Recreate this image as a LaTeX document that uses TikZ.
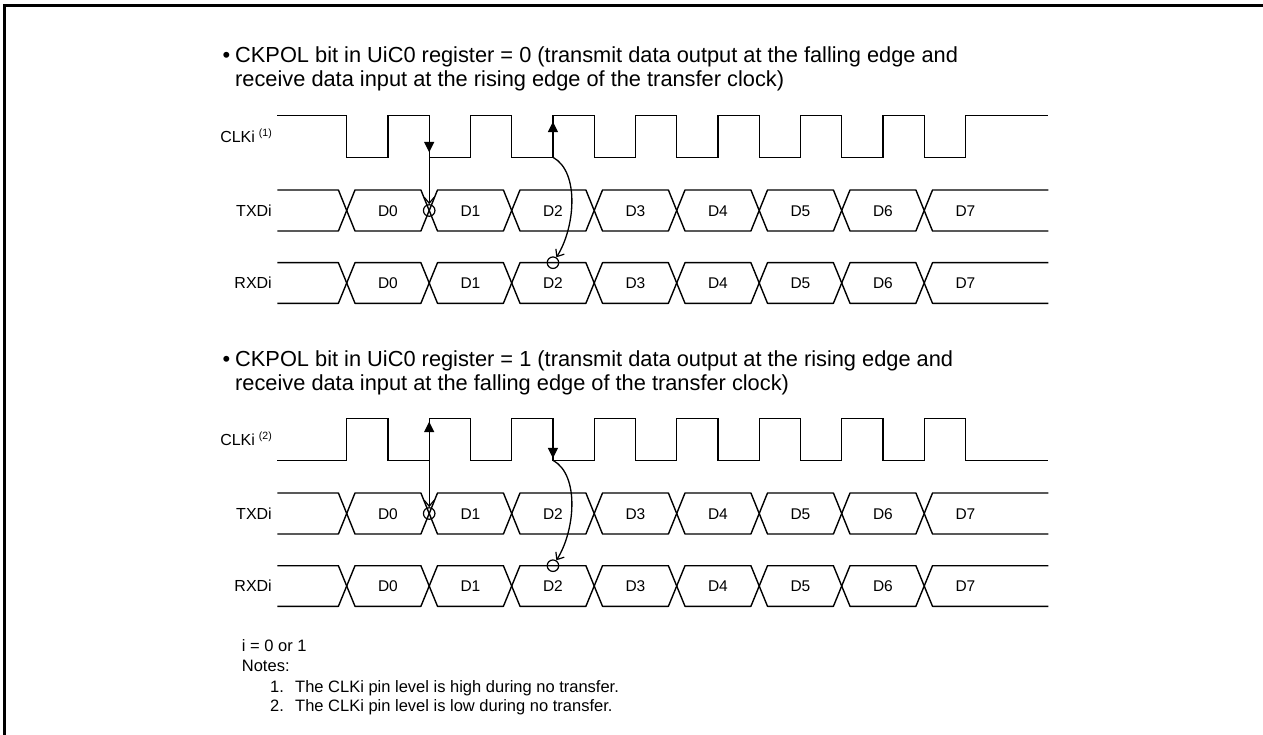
\documentclass[tikz,border=0pt]{standalone}
\usepackage{fontspec}
\setmainfont{Liberation Sans}
\usetikzlibrary{arrows.meta}

\newcommand\busrow[4]{%
  \pgfmathsetmacro\bmid{(#1+#2)/2}%
  \draw[bus] (277.3,#1) -- (338.4,#1) -- (346.7,\bmid) -- (338.4,#2) -- (277.3,#2);
  \foreach \k in {0,...,6} {
    \pgfmathsetmacro\fa{346.7+82.5*\k}
    \pgfmathsetmacro\fb{\fa+82.5}
    \draw[bus] (\fa,\bmid) -- (\fa+8.3,#1) -- (\fb-8.3,#1) -- (\fb,\bmid) -- (\fb-8.3,#2) -- (\fa+8.3,#2) -- cycle;
  }
  \draw[bus] (1048.3,#1) -- (932.5,#1) -- (924.2,\bmid) -- (932.5,#2) -- (1048.3,#2);
  \foreach \k in {0,...,7} {
    \node[dlbl] (#4\k) at ({387.95+82.5*\k},#3) {D\k};
  }
}

\begin{document}
\begin{tikzpicture}[x=1pt,y=-1pt,
  sig/.style={line width=1.4pt, line join=miter},
  bus/.style={line width=1.4pt, line join=round},
  lbl/.style={font=\fontsize{16}{19}\selectfont, anchor=base east, inner sep=0},
  dlbl/.style={font=\fontsize{15.5}{18}\selectfont, anchor=base, inner sep=0},
  txt/.style={font=\fontsize{21.8}{24}\selectfont, anchor=base west, inner sep=0},
  note/.style={font=\fontsize{16.5}{20}\selectfont, anchor=base west, inner sep=0},
  ring/.style={circle, draw, line width=1.2pt, minimum size=11.5pt, inner sep=0},
  tri/.style={-{Triangle[length=10.5pt,width=10pt]}, line width=1.4pt},
  barb/.style={-{Straight Barb[length=6pt,width=10pt,line width=1.2pt]}, line width=1.3pt},
]
\useasboundingbox (0,0) rectangle (1263,735);
\fill[white] (0,0) rectangle (1263,735);
\draw[line width=3pt] (4.5,735) -- (4.5,6) -- (1263,6);

% ---------- Section 1 ----------
\node[txt, anchor=base] (abul) at (226.5,63) {•};
\node[txt] (al1) at (235,63) {CKPOL bit in UiC0 register = 0 (transmit data output at the falling edge and};
\node[txt] (al2) at (235,87) {receive data input at the rising edge of the transfer clock)};

\node[lbl] (aclk) at (272,142.3) {CLKi\hspace{4pt}\raisebox{5.5pt}{\fontsize{10.5}{11}\selectfont (1)}};
\node[lbl] (atx) at (272,216.7) {TXDi};
\node[lbl] (arx) at (272,288.3) {RXDi};

\draw[sig] (277.3,115.7) foreach \k in {0,...,7} { -- ({346.7+82.5*\k},115.7) -- ({346.7+82.5*\k},157.3) -- ({387.95+82.5*\k},157.3) -- ({387.95+82.5*\k},115.7) } -- (1048.3,115.7);
\busrow{190}{231}{216.7}{atd}
\busrow{262.7}{303.3}{288.3}{ard}

\coordinate (a1t) at (429.2,115.7);
\coordinate (a1b) at (429.2,157.3);
\node[ring] (a1c) at (429.2,210.5) {};
\draw[barb] (a1t) -- (a1c);
\draw[tri, shorten >=5pt] (a1t) -- (a1b);
\coordinate (a2t) at (552.95,115.7);
\coordinate (a2b) at (552.95,157.3);
\node[ring] (a2c) at (552.95,262.7) {};
\draw[tri, shorten >=6pt] (a2b) -- (a2t);
\draw[barb] (a2b) .. controls (580,172) and (575,228) .. (a2c);

% ---------- Section 2 ----------
\begin{scope}[shift={(0,303)}]
\node[txt, anchor=base] (bbul) at (226.5,63) {•};
\node[txt] (bl1) at (235,63) {CKPOL bit in UiC0 register = 1 (transmit data output at the rising edge and};
\node[txt] (bl2) at (235,87) {receive data input at the falling edge of the transfer clock)};

\node[lbl] (bclk) at (272,142.3) {CLKi\hspace{4pt}\raisebox{5.5pt}{\fontsize{10.5}{11}\selectfont (2)}};
\node[lbl] (btx) at (272,216.7) {TXDi};
\node[lbl] (brx) at (272,288.3) {RXDi};

\draw[sig] (277.3,157.3) foreach \k in {0,...,7} { -- ({346.7+82.5*\k},157.3) -- ({346.7+82.5*\k},115.7) -- ({387.95+82.5*\k},115.7) -- ({387.95+82.5*\k},157.3) } -- (1048.3,157.3);
\busrow{190}{231}{216.7}{btd}
\busrow{262.7}{303.3}{288.3}{brd}

\coordinate (b1t) at (429.2,115.7);
\coordinate (b1b) at (429.2,157.3);
\node[ring] (b1c) at (429.2,210.5) {};
\draw[barb] (b1t) -- (b1c);
\draw[tri, shorten >=3pt] (b1b) -- (b1t);
\coordinate (b2t) at (552.95,115.7);
\coordinate (b2b) at (552.95,157.3);
\node[ring] (b2c) at (552.95,262.7) {};
\draw[tri, shorten >=2pt] (b2t) -- (b2b);
\draw[barb] (b2b) .. controls (580,172) and (575,228) .. (b2c);
\end{scope}

% ---------- Notes ----------
\node[note] (n0) at (241.7,651) {i = 0 or 1};
\node[note] (n1) at (241.7,671.5) {Notes:};
\node[note] (n2) at (270,692) {1.};
\node[note] (n2t) at (295,692) {The CLKi pin level is high during no transfer.};
\node[note] (n3) at (270,711.7) {2.};
\node[note] (n3t) at (295,711.7) {The CLKi pin level is low during no transfer.};
\end{tikzpicture}
\end{document}
